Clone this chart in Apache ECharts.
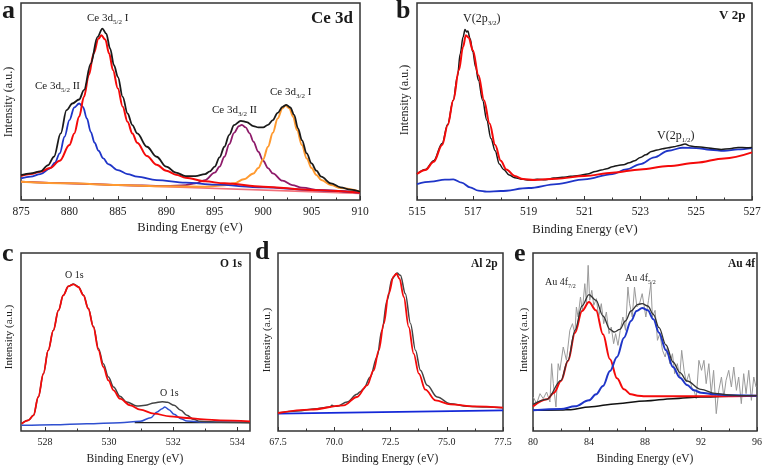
<!DOCTYPE html>
<html><head><meta charset="utf-8">
<script src="https://cdn.jsdelivr.net/npm/echarts@6/dist/echarts.min.js"></script>
<style>html,body{margin:0;padding:0;background:#fff}#c{width:765px;height:467px}</style>
</head><body><div id="c"></div>
<script>
// ---------- tick labels ----------
const aTicks = [875, 880, 885, 890, 895, 900, 905, 910];
const aMinor = [877.5, 882.5, 887.5, 892.5, 897.5, 902.5, 907.5];
const bTicks = [515, 517, 519, 521, 523, 525, 527];
const bMinor = [516, 518, 520, 522, 524, 526];
const cTicks = [528, 530, 532, 534];
const cMinor = [529, 531, 533];
const dTicks = [67.5, 70.0, 72.5, 75.0, 77.5];
const dMinor = [68.75, 71.25, 73.75, 76.25];
const eTicks = [80, 84, 88, 92, 96];
const eMinor = [82, 86, 90, 94];

// ---------- (a) Ce 3d ----------
const ceEnvelope = [[875,75],[876,80],[877,86],[877.8,105],[878.4,130],[879.1,200],[879.7,270],[880.3,290],[881,302],[881.5,330],[882.2,410],[882.9,490],[883.4,515],[883.8,500],[884.2,455],[884.6,405],[885,370],[885.5,310],[886,260],[886.5,225],[887,200],[888,160],[889,130],[890,100],[891,82],[892,72],[893,72],[894,78],[894.5,86],[895,100],[895.5,128],[896,160],[896.5,196],[897,225],[897.7,238],[898.3,234],[899,222],[899.5,218],[900,218],[900.5,226],[901,240],[901.5,262],[902,280],[902.4,286],[902.8,278],[903.2,256],[903.6,215],[904,180],[904.5,140],[905,110],[905.5,88],[906,70],[907,50],[908,38],[909,31],[910,25]];
const ceRed = [[875,72],[876,78],[877,85],[878,96],[879,118],[880,165],[880.5,200],[881,250],[881.5,310],[882,375],[882.5,440],[883,485],[883.3,495],[883.7,482],[884.1,440],[884.5,390],[885,335],[885.5,280],[886,235],[886.5,200],[887,172],[888,132],[889,106],[890,88],[891,76],[892,67],[894,56],[896,50],[900,40],[905,30],[910,22]];
const ceBlue = [[875,65],[876,70],[877,78],[878,95],[878.5,112],[879,140],[879.5,190],[880,240],[880.5,278],[881,290],[881.4,280],[881.8,245],[882.2,205],[882.6,172],[883,148],[883.5,125],[884,108],[885,90],[886,78],[887,70],[889,60],[892,52],[895,46],[900,38],[905,30],[910,22]];
const cePurple = [[875,55],[880,50],[885,45],[890,42],[892,45],[893,50],[894,60],[895,82],[895.5,100],[896,130],[896.5,168],[897,202],[897.5,222],[897.8,226],[898.2,218],[898.6,200],[899,175],[899.5,145],[900,118],[900.5,96],[901,80],[902,58],[903,45],[904,37],[906,29],[910,22]];
const ceOrange = [[875,55],[880,50],[885,45],[890,41],[894,40],[896,44],[897,50],[898,62],[899,80],[899.5,96],[900,122],[900.5,160],[901,202],[901.5,245],[902,276],[902.3,284],[902.7,276],[903.1,250],[903.5,210],[904,165],[904.5,125],[905,96],[905.5,75],[906,60],[907,45],[908,36],[910,25]];
const ceBackground = [[875,55],[910,20]];

// ---------- (b) V 2p ----------
const vData = [[515,78],[515.3,92],[515.6,118],[515.9,170],[516.1,228],[516.3,300],[516.45,372],[516.55,440],[516.65,490],[516.72,512],[516.78,505],[516.82,508],[516.9,485],[517,445],[517.1,400],[517.2,360],[517.35,300],[517.5,240],[517.65,185],[517.8,148],[517.95,108],[518.1,92],[518.3,75],[518.5,67],[518.8,62],[519,60],[519.3,62],[519.6,61],[519.9,66],[520.2,68],[520.5,71],[520.8,74],[521.1,78],[521.4,86],[521.6,90],[521.8,94],[522,100],[522.2,104],[522.4,106],[522.6,112],[522.8,118],[523,128],[523.2,136],[523.4,146],[523.6,150],[523.8,154],[524,157],[524.2,160],[524.4,164],[524.6,168],[524.8,162],[525,160],[525.3,158],[525.6,155],[525.9,152],[526.2,154],[526.5,158],[526.8,157],[527,158]];
const vRed = [[515,78],[515.3,90],[515.6,115],[515.9,165],[516.1,225],[516.3,300],[516.5,390],[516.65,460],[516.75,495],[516.85,488],[517,450],[517.2,375],[517.4,300],[517.6,230],[517.8,165],[518,118],[518.2,92],[518.5,72],[518.8,63],[519.2,60],[520,64],[521,72],[522,82],[523,92],[524,102],[525,112],[526,125],[527,143]];
const vBlue = [[515,48],[515.5,55],[516,61],[516.3,62],[516.6,52],[516.9,38],[517.2,28],[517.5,25],[518,27],[519,36],[520,48],[521,62],[522,78],[522.5,92],[523,108],[523.5,128],[524,148],[524.5,157],[525,156],[525.5,151],[526,148],[526.5,152],[527,156]];

// ---------- (c) O 1s ----------
const oEnvelope = [[527.27,22],[527.48,32],[527.64,47],[527.79,102],[527.95,172],[528.1,242],[528.26,302],[528.42,362],[528.57,407],[528.73,434],[528.89,441],[529.04,433],[529.2,408],[529.35,368],[529.51,314],[529.67,247],[529.82,202],[529.98,162],[530.14,132],[530.34,104],[530.55,87],[530.87,75],[531.13,77],[531.4,84],[531.66,88],[531.82,86],[532.03,77],[532.24,62],[532.43,47],[532.64,35],[532.84,29],[533.47,26],[534.4,25]];
const oRed = [[527.27,22],[527.48,32],[527.64,47],[527.79,102],[527.95,172],[528.1,242],[528.26,302],[528.42,362],[528.57,407],[528.73,434],[528.89,440],[529.04,432],[529.2,407],[529.35,367],[529.51,312],[529.67,242],[529.82,192],[529.98,152],[530.14,122],[530.34,97],[530.66,77],[530.97,64],[531.4,52],[531.9,44],[532.43,39],[532.95,35],[533.47,32],[534.4,29]];
const oBlue = [[527.27,17],[528.26,19],[529.3,22],[530.34,25],[530.97,29],[531.3,40],[531.5,57],[531.66,67],[531.74,72],[531.87,64],[532.03,50],[532.24,37],[532.43,30],[532.95,27],[534.4,26]];
const oBackground = [[530.8,25],[534.4,25]];

// ---------- (d) Al 2p ----------
const alData = [[67.5,54],[68.35,60],[69.24,67],[69.8,72],[69.9,77],[70.0,74],[70.13,74],[70.57,87],[71.01,110],[71.15,118],[71.31,127],[71.6,162],[71.9,222],[72.12,302],[72.35,392],[72.57,457],[72.79,474],[72.94,467],[73.16,412],[73.39,322],[73.61,242],[73.83,182],[74.13,137],[74.57,102],[75.16,82],[75.9,74],[76.79,72],[77.5,70]];
const alRed = [[67.5,54],[68.94,64],[70.42,77],[71.01,102],[71.46,137],[71.75,182],[71.98,242],[72.2,322],[72.42,412],[72.64,464],[72.76,472],[72.9,457],[73.09,402],[73.31,312],[73.53,232],[73.76,172],[74.05,124],[74.5,92],[75.16,80],[76.24,74],[77.5,70]];
const alBackground = [[67.5,52],[77.5,62]];

// ---------- (e) Au 4f ----------
const auData = [[80.02,102],[80.26,82],[80.5,112],[80.73,97],[80.97,117],[81.21,87],[81.33,202],[81.45,142],[81.64,72],[81.8,202],[81.92,182],[82.16,252],[82.39,212],[82.63,302],[82.82,322],[82.99,292],[83.1,372],[83.22,342],[83.39,402],[83.53,362],[83.7,442],[83.82,382],[83.94,497],[84.05,392],[84.2,422],[84.34,377],[84.53,397],[84.69,342],[84.88,382],[85.05,322],[85.24,357],[85.43,292],[85.59,312],[85.76,262],[85.9,292],[86.07,257],[86.23,302],[86.42,342],[86.61,302],[86.78,432],[86.9,382],[87.09,342],[87.25,432],[87.42,372],[87.61,382],[87.8,412],[88.06,342],[88.25,392],[88.42,442],[88.53,342],[88.72,362],[88.89,272],[89.06,292],[89.25,242],[89.44,222],[89.6,252],[89.77,202],[89.96,232],[90.12,172],[90.31,202],[90.48,162],[90.62,242],[90.79,182],[90.95,147],[91.14,172],[91.33,132],[91.5,122],[91.66,97],[91.85,212],[92.04,182],[92.21,212],[92.37,142],[92.56,202],[92.73,112],[92.9,182],[93.09,52],[93.27,122],[93.46,162],[93.63,102],[93.79,152],[93.98,182],[94.17,132],[94.34,192],[94.53,122],[94.69,162],[94.88,82],[95.05,172],[95.22,112],[95.41,182],[95.6,92],[95.77,162],[95.93,132]];
const auEnvelope = [[80,80],[81,95],[82,152],[82.5,212],[83,302],[83.5,375],[84,409],[84.5,392],[85,345],[85.5,305],[85.8,297],[86.2,305],[86.6,330],[87,360],[87.5,380],[87.8,382],[88.2,375],[88.6,350],[89,310],[89.5,258],[90,207],[90.5,175],[91,150],[92,125],[93,113],[94,108],[95,106],[96,106]];
const auRed = [[80,74],[81,95],[81.5,115],[82,150],[82.5,210],[83,295],[83.5,360],[84,387],[84.5,362],[85,290],[85.5,215],[86,158],[86.5,125],[87,110],[87.5,106],[88,104],[90,104],[92,104],[96,106]];
const auBlue = [[80,62],[82,66],[83,74],[84,92],[84.5,110],[85,135],[85.5,180],[86,222],[86.5,280],[87,330],[87.4,360],[87.8,369],[88.2,362],[88.6,335],[89,295],[89.5,242],[90,192],[90.5,160],[91,138],[91.5,122],[92,115],[93,110],[94,107],[96,106]];
const auBackground = [[80,62],[82,63],[82.7,64],[84,72],[86,82],[88,90],[90,97],[92,102],[94,104],[96,106]];

// ---------- build ----------
const FONT = '"Liberation Serif","Times New Roman",serif';
const panels = [
  {grid:{left:21,top:3,width:339,height:197}, min:875, max:910, ymax:592, ticks:aTicks, minor:aMinor, fs:11.5, fmt:v=>String(v)},
  {grid:{left:417,top:3,width:335,height:197}, min:515, max:527, ymax:592, ticks:bTicks, minor:bMinor, fs:11.5, fmt:v=>String(v)},
  {grid:{left:21,top:253,width:229,height:178}, min:527.25, max:534.4, ymax:534, ticks:cTicks, minor:cMinor, fs:10, fmt:v=>String(v)},
  {grid:{left:278,top:253,width:225,height:178}, min:67.5, max:77.5, ymax:534, ticks:dTicks, minor:dMinor, fs:10, fmt:v=>v.toFixed(1)},
  {grid:{left:533,top:253,width:225,height:178}, min:80, max:96, ymax:534, ticks:eTicks, minor:eMinor, fs:10, fmt:v=>String(v)}
];
const grids = [], xAxes = [], yAxes = [];
panels.forEach((p, i) => {
  grids.push(Object.assign({show:true, borderColor:'#333', borderWidth:1.5, backgroundColor:'transparent'}, p.grid));
  xAxes.push({type:'value', gridIndex:i, min:p.min, max:p.max, position:'bottom',
    axisLine:{show:false}, splitLine:{show:false},
    axisTick:{show:true, inside:true, length:4, customValues:p.ticks, lineStyle:{color:'#333', width:1}},
    axisLabel:{show:true, customValues:p.ticks, formatter:p.fmt, margin:6, color:'#222', fontFamily:FONT, fontSize:p.fs, showMinLabel:true, showMaxLabel:true}});
  xAxes.push({type:'value', gridIndex:i, min:p.min, max:p.max, position:'bottom',
    axisLine:{show:false}, splitLine:{show:false}, axisLabel:{show:false},
    axisTick:{show:true, inside:true, length:2.5, customValues:p.minor, lineStyle:{color:'#333', width:1}}});
  yAxes.push({type:'value', gridIndex:i, min:0, max:p.ymax, axisLine:{show:false}, axisTick:{show:false}, axisLabel:{show:false}, splitLine:{show:false}});
});
function line(pi, data, color, width, smooth, z) {
  return {type:'line', xAxisIndex:pi*2, yAxisIndex:pi, data:data, symbol:'none', showSymbol:false,
    smooth:smooth ? 0.35 : false, smoothMonotone: smooth ? 'x' : undefined,
    lineStyle:{color:color, width:width}, silent:true, z:z||2, animation:false};
}
const RED = '#f40a0a', BLUE = '#1f35c8';
const series = [
  line(0, ceBackground, '#f2707a', 1.6, false, 2),
  line(0, cePurple, '#8e1b6a', 1.8, true, 3),
  line(0, ceOrange, '#ff9a30', 2, true, 3),
  line(0, ceBlue, BLUE, 1.8, true, 3),
  line(0, ceRed, RED, 2, true, 4),
  line(0, ceEnvelope, '#1a1a1a', 1.8, true, 5),
  line(1, vBlue, BLUE, 1.8, true, 3),
  line(1, vData, '#1a1a1a', 1.5, true, 4),
  line(1, vRed, RED, 2, true, 5),
  line(2, oBackground, '#222', 1.2, false, 2),
  line(2, oBlue, '#3050d0', 1.5, true, 3),
  line(2, oEnvelope, '#444', 1.5, true, 4),
  line(2, oRed, RED, 1.8, true, 5),
  line(3, alBackground, '#1428d8', 1.8, false, 3),
  line(3, alData, '#444', 1.5, true, 4),
  line(3, alRed, RED, 1.8, true, 5),
  line(4, auData, '#9a9a9a', 1, false, 2),
  line(4, auBackground, '#111', 1.5, true, 3),
  line(4, auRed, RED, 2, true, 4),
  line(4, auBlue, BLUE, 2, true, 4),
  line(4, auEnvelope, '#333', 1.3, true, 5)
];

function txt(x, y, text, size, bold, extra) {
  return Object.assign({type:'text', x:x, y:y, silent:true, z:100,
    style:{text:text, fill:'#1a1a1a', font:(bold?'bold ':'') + size + 'px ' + FONT, verticalAlign:'middle', align:'left'}}, extra||{});
}
function sub(x, y, pre, s, post, size) {
  return {type:'text', x:x, y:y, silent:true, z:100,
    style:{text:'{t|' + pre + '}{s|' + s + '}' + (post ? '{t|' + post + '}' : ''), verticalAlign:'middle', align:'left',
      rich:{t:{fontFamily:FONT, fontSize:size, fill:'#222', lineHeight:size+4, verticalAlign:'middle'},
            s:{fontFamily:FONT, fontSize:Math.round(size*0.62), fill:'#222', verticalAlign:'bottom', lineHeight:size+4}}}};
}
function ytitle(x, y, size) {
  return {type:'text', x:x, y:y, rotation:Math.PI/2, silent:true, z:100,
    style:{text:'Intensity (a.u.)', fill:'#222', font:size + 'px ' + FONT, align:'center', verticalAlign:'middle'}};
}
function xtitle(x, y, size) {
  return {type:'text', x:x, y:y, silent:true, z:100,
    style:{text:'Binding Energy (eV)', fill:'#222', font:size + 'px ' + FONT, align:'center', verticalAlign:'middle'}};
}
const graphics = [
  txt(2, 11, 'a', 26, true), txt(396, 11, 'b', 26, true),
  txt(2, 254, 'c', 26, true), txt(255, 252, 'd', 26, true), txt(514, 254, 'e', 26, true),
  txt(311, 19, 'Ce 3d', 17, true), txt(719, 16, 'V 2p', 13, true),
  txt(220, 264, 'O 1s', 11.5, true), txt(471, 264, 'Al 2p', 11.5, true), txt(728, 264, 'Au 4f', 11.5, true),
  sub(87, 18, 'Ce 3d', '5/2', ' I', 11),
  sub(35, 86, 'Ce 3d', '5/2', ' II', 11),
  sub(212, 110, 'Ce 3d', '3/2', ' II', 11),
  sub(270, 92, 'Ce 3d', '3/2', ' I', 11),
  sub(463, 19, 'V(2p', '3/2', ')', 12),
  sub(657, 136, 'V(2p', '1/2', ')', 12),
  txt(65, 275, 'O 1s', 10, false), txt(160, 393, 'O 1s', 10, false),
  sub(545, 282, 'Au 4f', '7/2', '', 10),
  sub(625, 278, 'Au 4f', '5/2', '', 10),
  ytitle(9, 102, 12), ytitle(405, 100, 12), ytitle(9, 337, 11), ytitle(267, 340, 11), ytitle(524, 340, 11),
  xtitle(190, 228, 12.5), xtitle(585, 230, 12.5), xtitle(135, 459, 11.5), xtitle(390, 459, 11.5), xtitle(645, 459, 11.5)
];

const chart = echarts.init(document.getElementById('c'), null, {renderer:'canvas'});
chart.setOption({animation:false, backgroundColor:'#fff', grid:grids, xAxis:xAxes, yAxis:yAxes, series:series, graphic:graphics});
</script></body></html>
